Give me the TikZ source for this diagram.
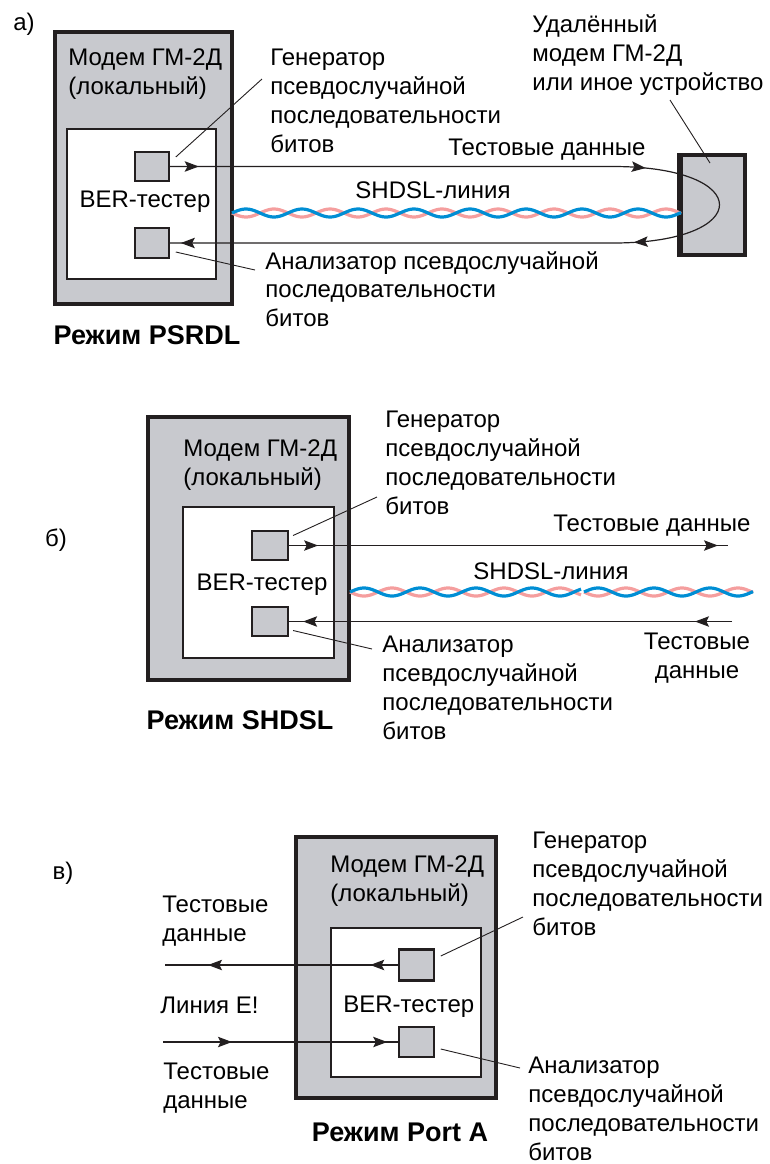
\documentclass[tikz,border=0pt]{standalone}
\usepackage{fontspec}
\setmainfont{Liberation Sans}
\usepackage{tikz}
\usetikzlibrary{arrows.meta, calc, fit, decorations.markings}

\definecolor{boxgray}{RGB}{200,201,206}
\definecolor{edge}{RGB}{35,31,32}
\definecolor{pairblue}{RGB}{0,142,212}
\definecolor{pairpink}{RGB}{245,158,158}

% twisted pair: from x=#1 to x=#2 at height #3
\newcommand{\twistpair}[3]{%
  \draw[pairpink, line width=1.6pt] plot[domain=#1:#2, samples=180, smooth] (\x, {#3+4*sin(6.4286*(\x-#1))});
  \draw[pairblue, line width=1.6pt] plot[domain=#1:#2, samples=180, smooth] (\x, {#3-4*sin(6.4286*(\x-#1))});
}

\begin{document}
\begin{tikzpicture}[x=0.5pt, y=-0.5pt, >={Stealth[length=7pt,width=5.2pt,inset=1.3pt]}]
%
% Skiss:
%  [Modem [BER [gen] -->---------------------->-- ( [remote]
%              [ana] --<----------------------<-- (
%
\tikzstyle{outerbox} = [draw=edge, fill=boxgray, line width=1.7pt, inner sep=0pt]
\tikzstyle{innerbox} = [draw=edge, fill=white, line width=1.2pt, inner sep=0pt]
\tikzstyle{testbox} = [draw=edge, fill=boxgray, line width=0.8pt, inner sep=0pt]
\tikzstyle{txt} = [inner sep=0pt, align=left, font=\fontsize{12pt}{14.4pt}\selectfont]
\tikzstyle{modetitle} = [inner sep=0pt, font=\fontsize{13.5pt}{16pt}\selectfont\bfseries]
\tikzstyle{conn} = [line width=0.6pt, draw=edge, postaction={decorate}]
\tikzstyle{leader} = [line width=0.45pt, draw=edge]
\useasboundingbox (0,0) rectangle (770,1164);

% ---------- a) PSRDL ----------
% Nodes
\node (modemA) [outerbox, fit={(55,32) (232,304)}] {};
\node (berboxA) [innerbox, fit={(67,129) (216,279)}] {};
\node (genA) [testbox, fit={(135,152) (169,181)}] {};
\node (anaA) [testbox, fit={(135,228) (169,258)}] {};
\node (remote) [outerbox, fit={(681,155) (745,255)}] {};
\draw [edge, line width=2.4pt] (remote.north west) -- (remote.south west);
\twistpair{232}{681}{213}
\node (labelA) [txt] at (24,24) {а)};
\node (modemAtxt) [txt, anchor=west] at (68,74) {Модем ГМ-2Д\\(локальный)};
\node (berA) [txt] at (145,202) {BER-тестер};
\node (modeA) [modetitle] at (147,335) {Режим PSRDL};
\node (genAtxt) [txt, anchor=west] at (270,101) {Генератор\\псевдослучайной\\последовательности\\битов};
\node (anaAtxt) [txt, anchor=west] at (265,289) {Анализатор псевдослучайной\\последовательности\\битов};
\node (remoteTxt) [txt, anchor=west] at (532,55) {Удалённый\\модем ГМ-2Д\\или иное устройство};
\node (dataA) [txt] at (547,150) {Тестовые данные};
\node (lineA) [txt] at (433,190) {SHDSL-линия};
% Arrows
\coordinate (loopTop) at (613,166.5);
\coordinate (loopBot) at (613,243);
\draw [conn, decoration={markings,
    mark=at position 14.5pt with {\arrow{>}},
    mark=at position 238pt with {\arrow{>}},
    mark=at position -232pt with {\arrow{>}},
    mark=at position -5.5pt with {\arrow{>}}}]
  (genA.east) -- (loopTop) .. controls (755,166.5) and (755,243) .. (loopBot) -- (anaA.east);
\draw [leader] ($(genA.east)+(6,-9.5)$) -- ($(genAtxt.west)+(-8,-22)$);
\draw [leader] ($(anaA.east)+(6,9)$) -- ($(anaAtxt.west)+(-10,-19)$);
\draw [leader] ($(remoteTxt.west)+(138,45)$) -- ($(remote.center)+(-3,-42)$);

% ---------- b) SHDSL ----------
% Nodes
\node (modemB) [outerbox, fit={(148,417) (349,680)}] {};
\node (berboxB) [innerbox, fit={(183,507) (334,658)}] {};
\node (genB) [testbox, line width=1.1pt, fit={(252,531) (288,560)}] {};
\node (anaB) [testbox, line width=1.1pt, fit={(252,607) (288,636)}] {};
\twistpair{350}{581}{592}
\twistpair{584}{753}{592}
\node (labelB) [txt] at (56,540) {б)};
\node (modemBtxt) [txt, anchor=west] at (183,465) {Модем ГМ-2Д\\(локальный)};
\node (berB) [txt] at (262,585) {BER-тестер};
\node (modeB) [modetitle] at (240,720) {Режим SHDSL};
\node (genBtxt) [txt, anchor=west] at (385,463) {Генератор\\псевдослучайной\\последовательности\\битов};
\node (anaBtxt) [txt, anchor=west] at (382,688) {Анализатор\\псевдослучайной\\последовательности\\битов};
\node (dataBout) [txt] at (652,526) {Тестовые данные};
\node (lineB) [txt] at (551,571) {SHDSL-линия};
\node (dataBin) [txt, align=center] at (697,658) {Тестовые\\данные};
% Arrows
\coordinate (outB) at (728,545.5);
\coordinate (inB) at (732,621.5);
\draw [conn, decoration={markings,
    mark=at position 14.5pt with {\arrow{>}},
    mark=at position -5pt with {\arrow{>}}}] (genB.east) -- (outB);
\draw [conn, decoration={markings,
    mark=at position 18.5pt with {\arrow{>}},
    mark=at position -7pt with {\arrow{>}}}] (inB) -- (anaB.east);
\draw [leader] ($(genB.east)+(4,-10)$) -- ($(genBtxt.west)+(-8,34)$);
\draw [leader] ($(anaB.east)+(4,9)$) -- ($(anaBtxt.west)+(-10,-39)$);

% ---------- c) Port A ----------
% Nodes
\node (modemC) [outerbox, fit={(296,837) (496,1098)}] {};
\node (berboxC) [innerbox, line width=0.8pt, fit={(331,928) (481,1077)}] {};
\node (genC) [testbox, fit={(399,950) (434,980)}] {};
\draw [edge, line width=1.4pt] (genC.north west) -- (genC.north east) (genC.south west) -- (genC.south east);
\node (anaC) [testbox, fit={(399,1027) (434,1057)}] {};
\node (labelC) [txt] at (63,873) {в)};
\node (modemCtxt) [txt, anchor=west] at (330,881) {Модем ГМ-2Д\\(локальный)};
\node (berC) [txt, anchor=west] at (343,1007) {BER-тестер};
\node (modeC) [modetitle] at (400,1132) {Режим Port A};
\node (genCtxt) [txt, anchor=west] at (532,884) {Генератор\\псевдослучайной\\последовательности\\битов};
\node (anaCtxt) [txt, anchor=west] at (528,1109) {Анализатор\\псевдослучайной\\последовательности\\битов};
\node (dataCout) [txt, anchor=west] at (162,921) {Тестовые\\данные};
\node (lineC) [txt, anchor=west] at (160,1005) {Линия E!};
\node (dataCin) [txt, anchor=west] at (163,1088) {Тестовые\\данные};
% Arrows
\coordinate (outC) at (165,965);
\coordinate (inC) at (163,1042);
\draw [conn, decoration={markings,
    mark=at position 14pt with {\arrow{>}},
    mark=at position -21.5pt with {\arrow{>}}}] (genC.west) -- (outC);
\draw [conn, decoration={markings,
    mark=at position 34.5pt with {\arrow{>}},
    mark=at position -5.5pt with {\arrow{>}}}] (inC) -- (anaC.west);
\draw [leader] ($(genC.east)+(6,-9)$) -- ($(genCtxt.west)+(-9,33)$);
\draw [leader] ($(anaC.east)+(6,7)$) -- ($(anaCtxt.west)+(-8,-41)$);
\end{tikzpicture}
\end{document}
